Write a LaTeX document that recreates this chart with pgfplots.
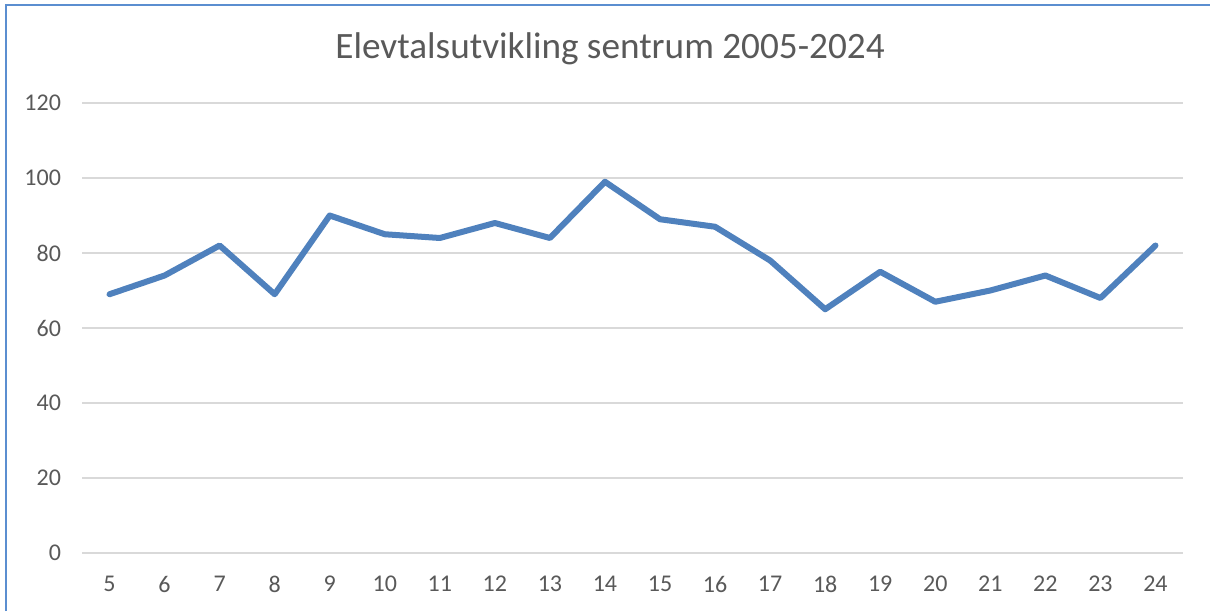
\documentclass[border=0pt]{standalone}
\usepackage{fontspec}
\setmainfont{Carlito}
\usepackage{pgfplots}
\pgfplotsset{compat=1.18}
\definecolor{linecol}{HTML}{4F81BD}
\definecolor{framecol}{HTML}{5B8ED0}
\definecolor{gridcol}{HTML}{D9D9D9}
\definecolor{txtcol}{HTML}{595959}
\begin{document}
\begin{tikzpicture}[x=1pt,y=1pt]
\useasboundingbox (0,0) rectangle (605,305.5);
\fill[white] (0,0) rectangle (605,305.5);
\draw[framecol, line width=1.1pt] (3,0) -- (3,303) -- (605,303);
\node[text=txtcol, font=\fontsize{18.6}{22}\selectfont] at (305,281) {Elevtalsutvikling sentrum 2005-2024};
\begin{axis}[
  at={(41pt,29pt)}, anchor=south west,
  scale only axis, width=550.5pt, height=225pt,
  xmin=-0.5, xmax=19.5, ymin=0, ymax=120,
  xtick={0,...,19},
  xticklabels={5,6,7,8,9,10,11,12,13,14,15,16,17,18,19,20,21,22,23,24},
  ytick={0,20,...,120},
  axis line style={draw=none},
  ymajorgrids, grid style={gridcol, line width=0.8pt},
  major tick length=0pt,
  tick label style={text=txtcol, font=\fontsize{12}{14}\selectfont},
  /pgf/number format/assume math mode=true,
  yticklabel style={xshift=-7pt},
  xticklabel style={yshift=-8pt},
  clip=false,
]
\addplot[linecol, line width=3pt, line join=round, line cap=round] coordinates {
(0,69) (1,74) (2,82) (3,69) (4,90) (5,85) (6,84) (7,88) (8,84) (9,99)
(10,89) (11,87) (12,78) (13,65) (14,75) (15,67) (16,70) (17,74) (18,68) (19,82)
};
\end{axis}
\end{tikzpicture}
\end{document}
